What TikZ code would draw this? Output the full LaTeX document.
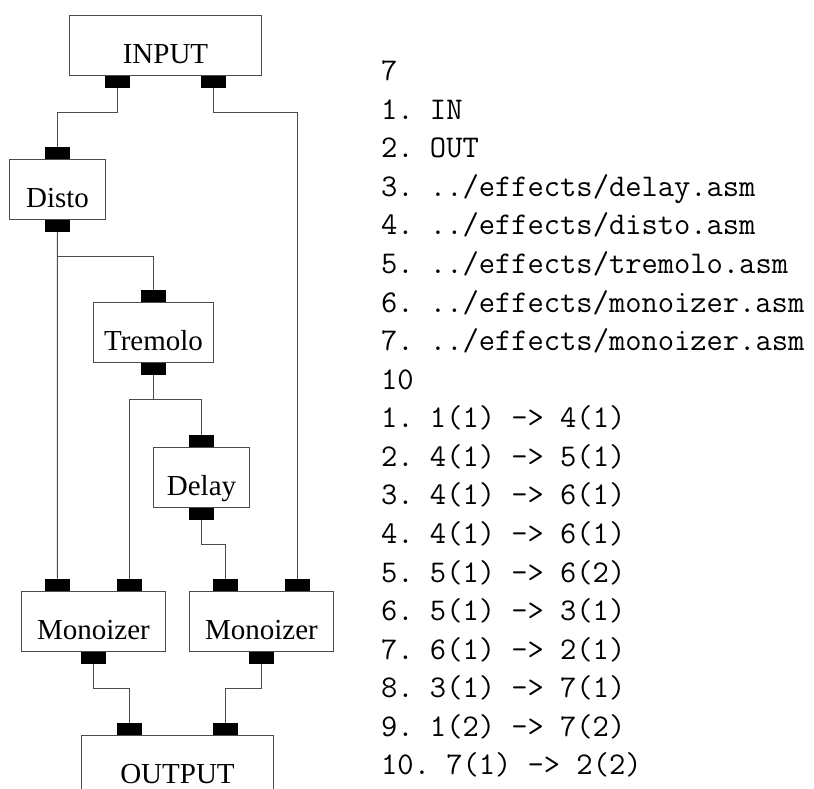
\documentclass[tikz,border=0pt]{standalone}
\usepackage{fontspec}
\setmainfont{Liberation Serif}
\usetikzlibrary{calc}
\begin{document}
\frenchspacing
\begin{tikzpicture}[x=1pt,y=-1pt,
box/.style={draw=black!70, line width=1pt, minimum height=60pt, inner sep=0pt,
    text height=36pt, text depth=0pt, anchor=north west, font=\fontsize{29}{29}\selectfont},
port/.style={fill=black, minimum width=25pt, minimum height=12pt, inner sep=0pt},
wire/.style={draw=black!70, line width=1pt},
listing/.style={font=\ttfamily\fontsize{31.6}{31.6}\selectfont, anchor=base west, inner sep=0pt}]
\useasboundingbox (0,0) rectangle (814,789);
\node[box, minimum width=192pt] (in) at (69,15) {INPUT};
\node[box, minimum width=96pt] (disto) at (9,159) {Disto};
\node[box, minimum width=120pt] (trem) at (93,302) {Tremolo};
\node[box, minimum width=96pt] (delay) at (153,447) {Delay};
\node[box, minimum width=144pt] (mono1) at (21,591) {Monoizer};
\node[box, minimum width=144pt] (mono2) at (189,591) {Monoizer};
\node[box, minimum width=192pt] (out) at (81,735) {OUTPUT};
\node[port, anchor=north] (in-o1) at ($(in.south west)!.25!(in.south east)$) {};
\node[port, anchor=north] (in-o2) at ($(in.south west)!.75!(in.south east)$) {};
\foreach \b in {disto,trem,delay} {
  \node[port, anchor=south] (\b-i1) at (\b.north) {};
  \node[port, anchor=north] (\b-o1) at (\b.south) {};
}
\foreach \b in {mono1,mono2,out} {
  \node[port, anchor=south] (\b-i1) at ($(\b.north west)!.25!(\b.north east)$) {};
  \node[port, anchor=south] (\b-i2) at ($(\b.north west)!.75!(\b.north east)$) {};
}
\node[port, anchor=north] (mono1-o1) at (mono1.south) {};
\node[port, anchor=north] (mono2-o1) at (mono2.south) {};
\draw[wire] (in-o1.south) -- ++(0,24) -| (disto-i1.north);
\draw[wire] (in-o2.south) -- ++(0,24) -| (mono2-i2.north);
\draw[wire] (disto-o1.south) -- ++(0,24) -| (trem-i1.north);
\draw[wire] (disto-o1.south) -- (mono1-i1.north);
\draw[wire] (trem-o1.south) -- ++(0,24) -| (mono1-i2.north);
\draw[wire] (trem-o1.south) -- ++(0,24) -| (delay-i1.north);
\draw[wire] (delay-o1.south) -- ++(0,24) -| (mono2-i1.north);
\draw[wire] (mono1-o1.south) -- ++(0,24) -| (out-i1.north);
\draw[wire] (mono2-o1.south) -- ++(0,24) -| (out-i2.north);
\foreach \t [count=\i from 0] in {7, {1. IN}, {2. OUT}, {3. ../effects/delay.asm},
    {4. ../effects/disto.asm}, {5. ../effects/tremolo.asm}, {6. ../effects/monoizer.asm},
    {7. ../effects/monoizer.asm}, 10, {1. 1(1) -> 4(1)}, {2. 4(1) -> 5(1)},
    {3. 4(1) -> 6(1)}, {4. 4(1) -> 6(1)}, {5. 5(1) -> 6(2)}, {6. 5(1) -> 3(1)},
    {7. 6(1) -> 2(1)}, {8. 3(1) -> 7(1)}, {9. 1(2) -> 7(2)}, {10. 7(1) -> 2(2)}}
  \node[listing] (line\i) at (381,80.7+38.57*\i) {\t};
\end{tikzpicture}
\end{document}
